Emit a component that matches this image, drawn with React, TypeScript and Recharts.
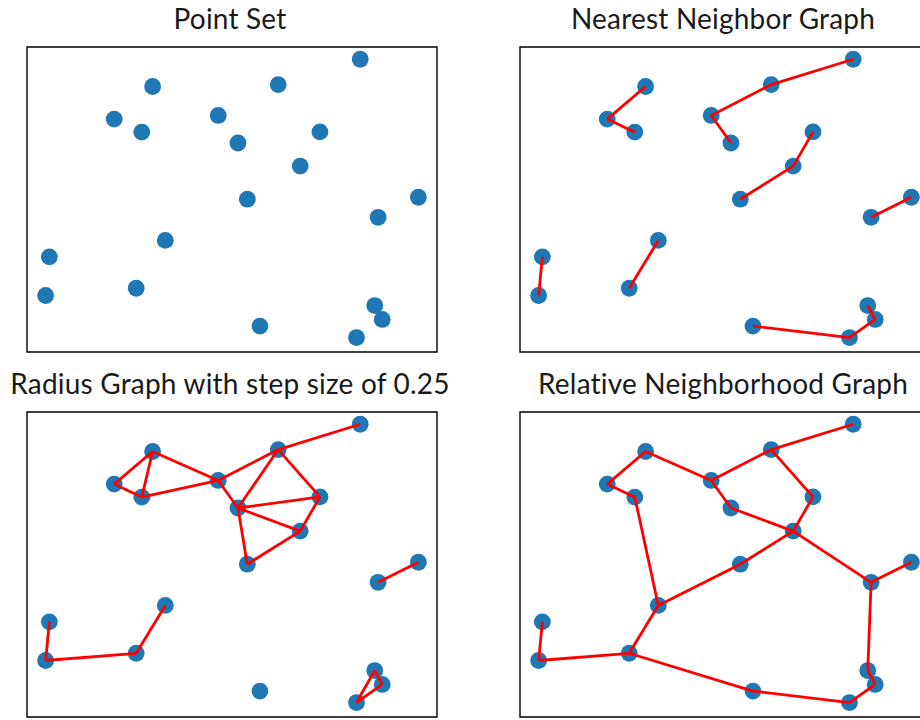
import React from 'react'
import { ScatterChart, Scatter, XAxis, YAxis, ReferenceArea } from 'recharts'

// node positions (unit square)
const POINT_X = [0.844, 0.287, 0.624, 0.184, 0.258, 0.463, 0.736, 0.516, 0.683, 0.541, 1.0, 0.892, 0.321, 0.01, 0.0, 0.243, 0.883, 0.903, 0.575, 0.834]
const POINT_Y = [1.0, 0.902, 0.909, 0.785, 0.738, 0.798, 0.739, 0.699, 0.616, 0.497, 0.504, 0.432, 0.349, 0.29, 0.151, 0.177, 0.115, 0.065, 0.041, 0.0]

// edge lists, 1-based node numbers
const NN_EDGES = [[2, 4], [4, 5], [1, 3], [3, 6], [6, 8], [7, 9], [9, 10], [11, 12], [14, 15], [13, 16], [19, 20], [20, 18], [17, 18]]
const RADIUS_EDGES = [
  [4, 2], [2, 5], [4, 5], [2, 6], [5, 6], [6, 3], [3, 1], [6, 8], [3, 8], [3, 7], [8, 7], [8, 9], [7, 9],
  [8, 10], [9, 10], [12, 11], [14, 15], [15, 16], [16, 13], [17, 18], [17, 20], [18, 20],
]
const RNG_EDGES = [
  [1, 3], [3, 6], [2, 6], [2, 4], [4, 5], [5, 13], [13, 16], [16, 15], [15, 14], [13, 10], [10, 9], [9, 7],
  [7, 3], [6, 8], [8, 9], [9, 12], [12, 11], [12, 17], [17, 18], [18, 20], [20, 19], [19, 16],
]

const TITLES = ['Point Set', 'Nearest Neighbor Graph', 'Radius Graph with step size of 0.25', 'Relative Neighborhood Graph']
const EDGE_SETS: number[][][] = [[], NN_EDGES, RADIUS_EDGES, RNG_EDGES]

const points = POINT_X.map((x, i) => ({ x, y: POINT_Y[i] }))

const PLOT_W = 410
const PLOT_H = 305
const PAD = 10
const X_DOMAIN: [number, number] = [-0.05, 1.05]
const Y_DOMAIN: [number, number] = [-0.052, 1.044]
const PANEL_POS = [
  { left: 27, top: 46.7 },
  { left: 520, top: 46.7 },
  { left: 27, top: 411.7 },
  { left: 520, top: 411.7 },
]

const Dot = (p: any) => <circle cx={p.cx} cy={p.cy} r={8.4} fill="#1f77b4" />
const NoDot = () => <g />

function Panel({ edges, left, top }: { edges: number[][]; left: number; top: number }) {
  return (
    <div style={{ position: 'absolute', left: left - PAD, top: top - PAD }}>
      <ScatterChart width={PLOT_W + 2 * PAD} height={PLOT_H + 2 * PAD} margin={{ top: PAD, right: PAD, bottom: PAD, left: PAD }}>
        <XAxis type="number" dataKey="x" domain={X_DOMAIN} hide />
        <YAxis type="number" dataKey="y" domain={Y_DOMAIN} hide />
        <ReferenceArea x1={X_DOMAIN[0]} x2={X_DOMAIN[1]} y1={Y_DOMAIN[0]} y2={Y_DOMAIN[1]} fill="none" stroke="#000" strokeWidth={1.4} fillOpacity={0} strokeOpacity={1} />
        <Scatter data={points} shape={Dot} isAnimationActive={false} />
        {edges.map(([a, b], i) => (
          <Scatter
            key={i}
            data={[points[a - 1], points[b - 1]]}
            line={{ stroke: '#ff0000', strokeWidth: 2.8 }}
            shape={NoDot}
            isAnimationActive={false}
          />
        ))}
      </ScatterChart>
    </div>
  )
}

export default function App() {
  return (
    <div style={{ position: 'absolute', left: 0, top: 0, width: 920, height: 720, overflow: 'hidden', background: '#fff' }}>
      {PANEL_POS.map((p, i) => (
        <Panel key={i} edges={EDGE_SETS[i]} left={p.left} top={p.top} />
      ))}
      <svg width={920} height={720} style={{ position: 'absolute', left: 0, top: 0, pointerEvents: 'none' }}>
        {PANEL_POS.map((p, i) => (
          <text
            key={i}
            x={p.left + PLOT_W / 2 - 2}
            y={p.top - 17.4}
            textAnchor="middle"
            fontFamily="Lato"
            fontSize={28}
            letterSpacing={0.2}
            fill="#1a1a1a"
          >
            {TITLES[i]}
          </text>
        ))}
      </svg>
    </div>
  )
}
